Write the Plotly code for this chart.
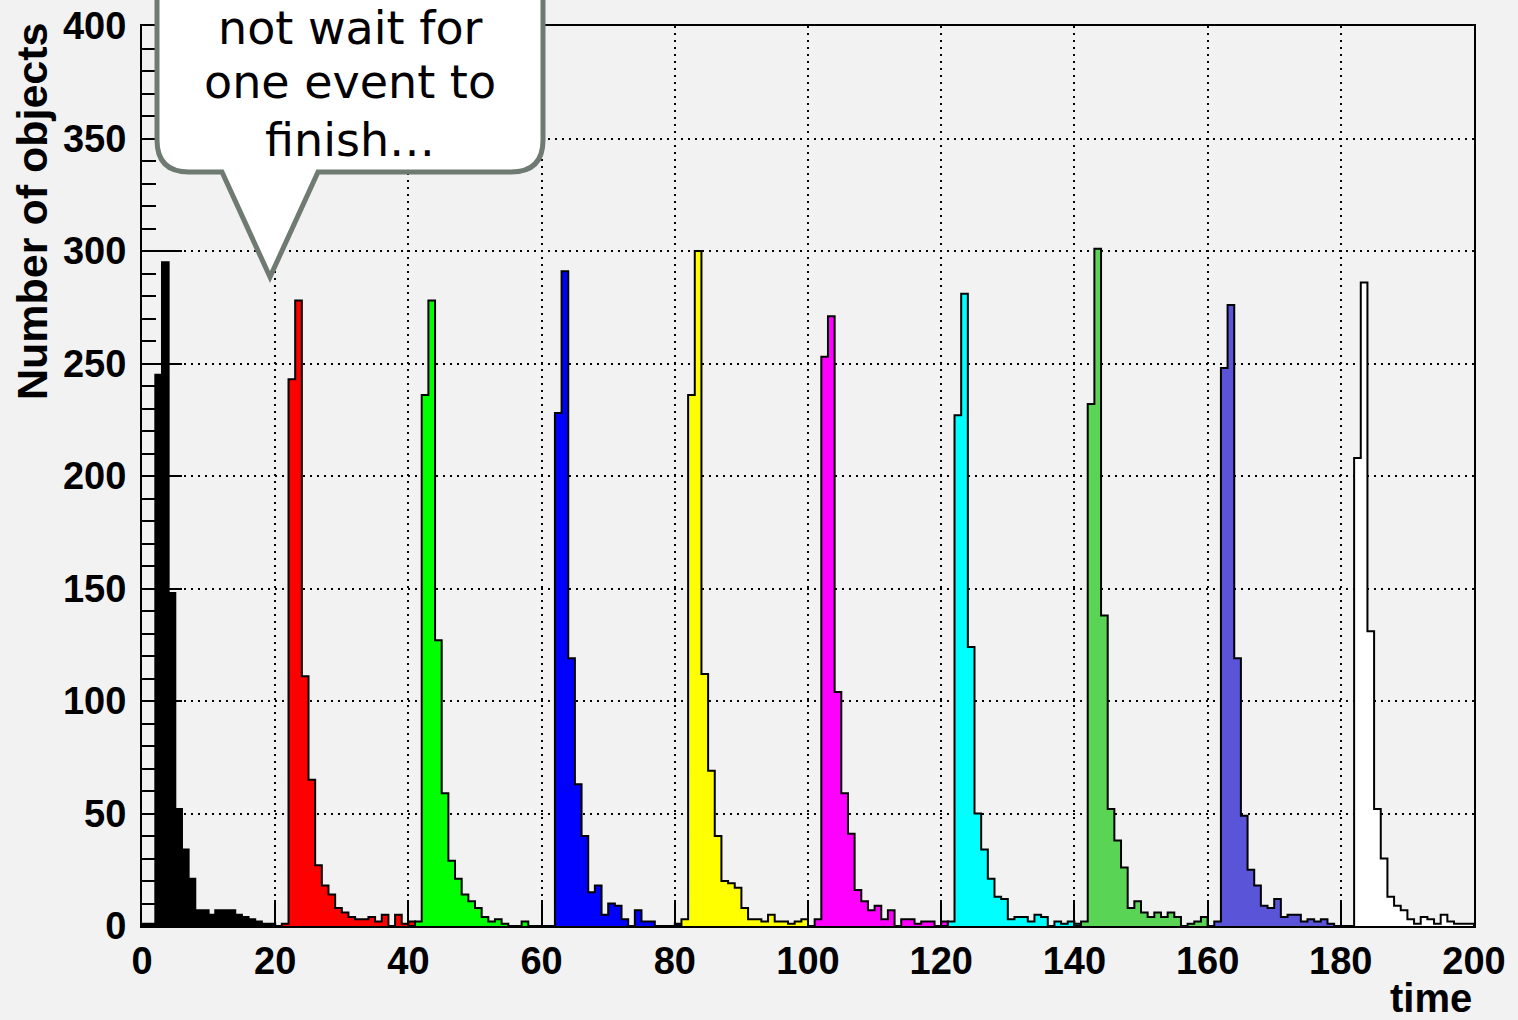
import plotly.graph_objects as go

# ---------------- data ----------------
series_start = [0, 20, 40, 60, 80, 100, 120, 140, 160, 180]
series_color = ["#000000", "#ff0000", "#00ff00", "#0000ff", "#ffff00",
                "#ff00ff", "#00ffff", "#59d454", "#5954d8", "#ffffff"]

black   = [1, 1, 245, 295, 148, 52, 34, 21, 7, 7, 5, 7, 7, 7, 5, 4, 3, 2, 1, 1, 0]
red     = [0, 1, 243, 278, 111, 65, 27, 18, 14, 8, 6, 4, 3, 3, 4, 2, 5, 0, 5, 1, 2]
green   = [0, 2, 236, 278, 127, 59, 29, 21, 14, 11, 8, 4, 2, 3, 1, 0, 0, 2, 0, 0, 0]
blue    = [0, 0, 228, 291, 119, 63, 40, 15, 18, 5, 10, 9, 3, 0, 7, 2, 2, 0, 0, 0, 1]
yellow  = [0, 3, 236, 300, 112, 69, 40, 20, 19, 17, 8, 3, 3, 2, 5, 2, 2, 1, 2, 3, 0]
magenta = [0, 3, 253, 271, 104, 59, 41, 16, 11, 7, 9, 3, 7, 0, 3, 3, 1, 2, 2, 0, 2]
cyan    = [0, 2, 227, 281, 124, 50, 34, 21, 13, 12, 3, 4, 4, 2, 5, 4, 0, 2, 1, 2, 1]
green8  = [0, 2, 232, 301, 138, 52, 38, 26, 8, 11, 6, 4, 6, 4, 6, 4, 0, 1, 2, 4, 0]
purple  = [0, 2, 248, 276, 119, 49, 25, 18, 9, 8, 12, 4, 5, 5, 2, 3, 2, 3, 1, 0, 0]
white   = [0, 0, 208, 286, 131, 52, 30, 13, 9, 7, 3, 1, 4, 3, 1, 5, 2, 1, 1, 1]

series_values = [black, red, green, blue, yellow, magenta, cyan, green8, purple, white]

x_ticks = [0, 20, 40, 60, 80, 100, 120, 140, 160, 180, 200]
y_ticks = [0, 50, 100, 150, 200, 250, 300, 350, 400]

bubble_lines = ["not wait for", "one event to", "finish…"]

# ---------------- geometry helpers (pixel layout of the page) ----------------
W, H = 1518, 1020
L, R, T, B = 142, 1474, 26, 926


def px_x(px):
    return (px - L) / (R - L)


def px_y(py):
    return (B - py) / (B - T)


def step_xy(start, vals):
    xs = [start]
    ys = [0]
    for i, v in enumerate(vals):
        xs.append(start + i)
        ys.append(v)
    xs.append(start + len(vals))
    ys.append(vals[-1])
    xs.append(start + len(vals))
    ys.append(0)
    return xs, ys


fig = go.Figure()
for start, col, vals in zip(series_start, series_color, series_values):
    xs, ys = step_xy(start, vals)
    fig.add_trace(go.Scatter(
        x=xs, y=ys, mode="lines", line=dict(shape="hv", color="#000000", width=2),
        fill="tozeroy", fillcolor=col, hoverinfo="skip", showlegend=False))

bold = dict(family="Liberation Sans, Arial, sans-serif", size=38, color="#000000", weight="bold")

fig.update_xaxes(
    range=[0, 200], tickmode="array", tickvals=x_ticks, ticktext=[str(v) for v in x_ticks],
    ticks="inside", ticklen=26, tickwidth=2, tickcolor="#000000",
    showline=True, linecolor="#000000", linewidth=2, mirror=True,
    showgrid=True, gridcolor="#000000", gridwidth=1.5, griddash="2px,5px",
    zeroline=False, tickfont=bold, fixedrange=True, automargin=False)
fig.update_yaxes(
    range=[0, 400], tickmode="array", tickvals=y_ticks, ticktext=[str(v) for v in y_ticks],
    ticks="inside", ticklen=40, tickwidth=2, tickcolor="#000000",
    minor=dict(ticks="inside", ticklen=14, dtick=10, tickwidth=2, tickcolor="#000000", showgrid=False),
    showline=True, linecolor="#000000", linewidth=2, mirror=True,
    showgrid=True, gridcolor="#000000", gridwidth=1.5, griddash="2px,5px",
    zeroline=False, tickfont=bold, ticklabelstandoff=6, fixedrange=True, automargin=False)

# speech bubble
bl, br, bb, bt, rad = 157, 543, 172, -60, 32
pl, tipx, tipy, pr = 222, 270, 277, 318
pts = [
    ("M", [(bl, bt)]),
    ("L", [(bl, bb - rad)]),
    ("Q", [(bl, bb), (bl + rad, bb)]),
    ("L", [(pl, bb)]),
    ("L", [(tipx, tipy)]),
    ("L", [(pr, bb)]),
    ("L", [(br - rad, bb)]),
    ("Q", [(br, bb), (br, bb - rad)]),
    ("L", [(br, bt)]),
]
path = ""
for cmd, coords in pts:
    path += cmd + " " + " ".join(f"{px_x(a):.5f},{px_y(b):.5f}" for a, b in coords) + " "
path += "Z"
fig.add_shape(type="path", path=path, xref="paper", yref="paper",
              fillcolor="#ffffff", line=dict(color="#6e7a72", width=5), layer="above")

for line_text, cy in zip(bubble_lines, [28, 82, 140]):
    fig.add_annotation(text=line_text, xref="paper", yref="paper",
                       x=px_x(350), y=px_y(cy), xanchor="center", yanchor="middle",
                       showarrow=False,
                       font=dict(family="DejaVu Sans, sans-serif", size=46, color="#000000"))

# axis titles
fig.add_annotation(text="time", xref="paper", yref="paper", x=1, y=0,
                   xanchor="right", yanchor="top", yshift=-48, showarrow=False,
                   font=dict(family="Liberation Sans, Arial, sans-serif", size=40,
                             color="#000000", weight="bold"))
fig.add_annotation(text="Number of objects", xref="paper", yref="paper", x=0, y=1,
                   xanchor="center", yanchor="top", xshift=-110, yshift=6, textangle=-90,
                   showarrow=False,
                   font=dict(family="Liberation Sans, Arial, sans-serif", size=43,
                             color="#000000", weight="bold"))

fig.update_layout(
    width=W, height=H, margin=dict(l=L, r=W - R, t=T, b=H - B, pad=0, autoexpand=False),
    paper_bgcolor="#f2f2f2", plot_bgcolor="#f2f2f2", showlegend=False)

fig.write_html("out.html", config={"displayModeBar": False},
               post_script="document.body.style.margin='0';")
